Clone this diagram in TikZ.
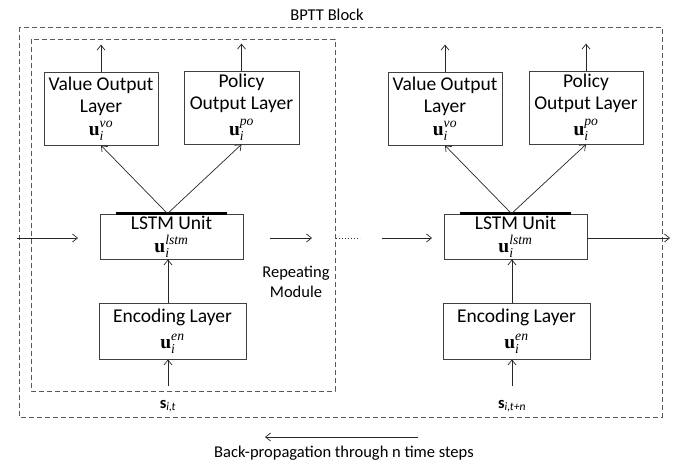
\documentclass[tikz,border=0pt]{standalone}
\usepackage{amsmath}
\usepackage{fontspec}
\setmainfont{Carlito}
\newfontfamily\tms{Liberation Serif}
\usetikzlibrary{arrows.meta}
\newcommand\uv[1]{$\text{\tms\bfseries u}_{\text{\tms\itshape i}}^{\text{\tms\itshape #1}}$}
\newcommand\sv[1]{$\text{\bfseries s}_{\text{\itshape #1}}$}
\begin{document}
\begin{tikzpicture}[x=1pt,y=-1pt,
  layerbox/.style={draw=black!75, line width=0.8pt, align=center, inner sep=0pt,
    font=\fontsize{19.5}{22}\selectfont},
  arr/.style={-{Straight Barb[length=5pt,width=8pt]}, line width=0.7pt, black!85},
  dashbox/.style={draw=black!65, line width=0.7pt, dash pattern=on 5pt off 3pt},
  lbl/.style={font=\fontsize{16.5}{20}\selectfont, align=center, inner sep=0pt}]
\useasboundingbox (0,0) rectangle (689,463);

% dashed boxes
\draw[dashbox] (19,27) rectangle (662,417);
\draw[dashbox] (31,39) rectangle (335,391);
\node[lbl] (bptt) at (327,15) {BPTT Block};

% left module
\node[layerbox, minimum width=114pt, minimum height=73pt] (vo1) at (101,108.5) {Value Output\\Layer\\[1pt]\uv{vo}};
\node[layerbox, minimum width=115pt, minimum height=73pt] (po1) at (241.5,107.5) {Policy\\Output Layer\\[4pt]\uv{po}};
\node[layerbox, minimum width=143pt, minimum height=45pt] (ls1) at (171.5,236.5) {LSTM Unit\\[1pt]\uv{lstm}};
\node[layerbox, minimum width=147pt, minimum height=56pt] (en1) at (172.5,331) {Encoding Layer\\[4pt]\uv{en}};
\node[lbl] (s1) at (168,406) {\sv{i,t}};
\coordinate (in1) at (168,386);

% right module
\node[layerbox, minimum width=114pt, minimum height=73pt] (vo2) at (445,108.5) {Value Output\\Layer\\[1pt]\uv{vo}};
\node[layerbox, minimum width=114pt, minimum height=73pt] (po2) at (586,107.5) {Policy\\Output Layer\\[4pt]\uv{po}};
\node[layerbox, minimum width=143pt, minimum height=45pt] (ls2) at (515.5,236.5) {LSTM Unit\\[1pt]\uv{lstm}};
\node[layerbox, minimum width=147pt, minimum height=56pt] (en2) at (516.5,331) {Encoding Layer\\[4pt]\uv{en}};
\node[lbl] (s2) at (512,406) {\sv{i,t+n}};
\coordinate (in2) at (512,386);

% thick bars on LSTM units
\draw[line width=2.3pt] ([xshift=16pt]ls1.north west) -- ([xshift=-16pt]ls1.north east);
\draw[line width=2.3pt] ([xshift=16pt]ls2.north west) -- ([xshift=-16pt]ls2.north east);

% arrows left module
\draw[arr] (vo1.north) -- ++(0,-27);
\draw[arr] (po1.north) -- ++(0,-27);
\draw[arr] ([xshift=-4pt]ls1.north) -- (vo1.south);
\draw[arr] ([xshift=-4pt]ls1.north) -- (po1.south);
\draw[arr] (en1.north -| in1) -- (ls1.south -| in1);
\draw[arr] (in1) -- (en1.south -| in1);

% arrows right module
\draw[arr] (vo2.north) -- ++(0,-27);
\draw[arr] (po2.north) -- ++(0,-27);
\draw[arr] ([xshift=-4pt]ls2.north) -- (vo2.south);
\draw[arr] ([xshift=-4pt]ls2.north) -- (po2.south);
\draw[arr] (en2.north -| in2) -- (ls2.south -| in2);
\draw[arr] (in2) -- (en2.south -| in2);

% horizontal flow
\coordinate (hin) at (17,238);
\coordinate (h1a) at (78,238);
\coordinate (h1b) at (270,238);
\coordinate (h1c) at (312,238);
\coordinate (d1) at (336,238);
\coordinate (d2) at (360,238);
\coordinate (h2a) at (382,238);
\coordinate (h2b) at (432,238);
\coordinate (hout) at (670,238);
\draw[arr] (hin) -- (h1a);
\draw[arr] (h1b) -- (h1c);
\draw[line width=0.8pt, dash pattern=on 1pt off 2pt, black!80] (d1) -- (d2);
\draw[arr] (h2a) -- (h2b);
\draw[arr] (ls2.east |- hout) -- (hout);

\node[lbl] (rep) at (296,282) {Repeating\\Module};

% back-propagation
\coordinate (bpa) at (418,437);
\coordinate (bpb) at (265,437);
\draw[arr] (bpa) -- (bpb);
\node[lbl] (bpl) at (344,453) {Back-propagation through n time steps};
\end{tikzpicture}
\end{document}
